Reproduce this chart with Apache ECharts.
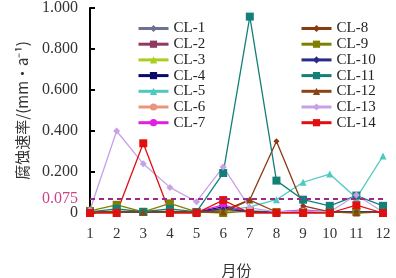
<!DOCTYPE html>
<html>
<head>
<meta charset="utf-8">
<script src="https://cdn.jsdelivr.net/npm/echarts@6/dist/echarts.min.js"></script>
<style>
  html, body { margin: 0; padding: 0; background: #fff; }
  #chart { width: 396px; height: 278px; }
</style>
</head>
<body>
<div id="chart"></div>
<script>
// month categories and the limit line value
const months = ['1', '2', '3', '4', '5', '6', '7', '8', '9', '10', '11', '12'];
const limitValue = 0.075;
const limitLabel = '0.075';

// corrosion rate per month, mm/a
const cl1  = [0.005, 0.005, 0.005, 0.005, 0.005, 0.02, 0.005, 0.005, 0.005, 0.005, 0.005, 0.005];
const cl2  = [0.005, 0.005, 0.005, 0.005, 0.005, 0.015, 0.005, 0.005, 0.005, 0.005, 0.005, 0.005];
const cl3  = [0.005, 0.01, 0.005, 0.01, 0.005, 0.01, 0.005, 0.005, 0.005, 0.005, 0.005, 0.005];
const cl4  = [0.005, 0.005, 0.005, 0.005, 0.005, 0.03, 0.005, 0.005, 0.005, 0.005, 0.005, 0.005];
const cl5  = [0.005, 0.005, 0.005, 0.005, 0.005, 0.01, 0.03, 0.065, 0.15, 0.19, 0.073, 0.278];
const cl6  = [0.005, 0.005, 0.005, 0.005, 0.005, 0.01, 0.005, 0.005, 0.01, 0.005, 0.005, 0.005];
const cl7  = [0.005, 0.005, 0.005, 0.005, 0.005, 0.04, 0.005, 0.005, 0.015, 0.005, 0.005, 0.005];
const cl8  = [0.005, 0.005, 0.005, 0.005, 0.005, 0.01, 0.065, 0.35, 0.035, 0.005, 0.005, 0.005];
const cl9  = [0.01, 0.04, 0.005, 0.047, 0.005, 0.0, 0.01, 0.005, 0.005, 0.005, 0.005, 0.005];
const cl10 = [0.005, 0.005, 0.005, 0.005, 0.005, 0.02, 0.005, 0.005, 0.005, 0.005, 0.005, 0.005];
const cl11 = [0.005, 0.02, 0.006, 0.02, 0.005, 0.195, 0.958, 0.158, 0.065, 0.035, 0.085, 0.035];
const cl12 = [0.005, 0.005, 0.005, 0.005, 0.005, 0.005, 0.063, 0.005, 0.005, 0.005, 0.0, 0.005];
const cl13 = [0.015, 0.40, 0.24, 0.125, 0.055, 0.225, 0.025, 0.005, 0.01, 0.005, 0.088, 0.005];
const cl14 = [0.0, 0.0, 0.34, 0.0, 0.0, 0.063, 0.0, 0.0, 0.0, 0.0, 0.038, 0.0];

const seriesNames = ['CL-1', 'CL-2', 'CL-3', 'CL-4', 'CL-5', 'CL-6', 'CL-7',
                     'CL-8', 'CL-9', 'CL-10', 'CL-11', 'CL-12', 'CL-13', 'CL-14'];
const seriesData = [cl1, cl2, cl3, cl4, cl5, cl6, cl7, cl8, cl9, cl10, cl11, cl12, cl13, cl14];
const colors = ['#6E7196', '#8E3A62', '#A8CF1E', '#0A0A6A', '#4EC9C0', '#E8967A', '#E020E0',
                '#8B3A10', '#808000', '#2A2A8A', '#138078', '#8B4513', '#C8A0E8', '#E01010'];
const symbols = ['diamond', 'rect', 'triangle', 'rect', 'triangle', 'circle', 'circle',
                 'diamond', 'rect', 'diamond', 'rect', 'triangle', 'diamond', 'rect'];
const symbolSizes = [5, 7, 7, 7, 7, 7, 7, 6, 8, 5, 8, 7, 7, 8];

const serif = '"Liberation Serif", "DejaVu Serif", serif';
const cjk = '"Noto Sans CJK SC", sans-serif';

const chart = echarts.init(document.getElementById('chart'));

const series = seriesNames.map((name, i) => {
  const s = {
    name: name,
    type: 'line',
    data: seriesData[i],
    symbol: symbols[i],
    symbolSize: symbolSizes[i],
    color: colors[i],
    lineStyle: { width: 1.3 },
    clip: false,
    animation: false
  };
  if (name === 'CL-14') {
    // dashed limit line, its value shown left of the y axis
    s.markLine = {
      silent: true,
      symbol: 'none',
      label: {
        show: true,
        position: 'start',
        distance: 12,
        formatter: limitLabel,
        fontFamily: serif,
        fontSize: 16,
        color: '#D0408C'
      },
      lineStyle: { color: '#A0288C', type: [5, 4], width: 2 },
      data: [{ yAxis: limitValue }]
    };
  }
  return s;
});

const legendBase = {
  orient: 'vertical',
  itemWidth: 30,
  itemHeight: 9,
  itemGap: 0.7,
  lineStyle: { width: 3 },
  textStyle: { fontFamily: serif, fontSize: 15, lineHeight: 15, color: '#222' }
};

const option = {
  backgroundColor: '#fff',
  animation: false,
  grid: { left: 90, right: 13, top: 8, bottom: 65, outerBoundsMode: 'none', containLabel: false },
  legend: [
    Object.assign({}, legendBase, { left: 132, top: 16, data: seriesNames.slice(0, 7) }),
    Object.assign({}, legendBase, { left: 295, top: 16, data: seriesNames.slice(7) })
  ],
  xAxis: {
    type: 'category',
    data: months,
    boundaryGap: false,
    axisLine: { show: false },
    axisTick: { show: false },
    axisLabel: { fontFamily: serif, fontSize: 15, color: '#333', margin: 14 },
    name: '月份',
    nameLocation: 'middle',
    nameGap: 50,
    nameTextStyle: { fontFamily: cjk, fontSize: 15, color: '#333' }
  },
  yAxis: {
    type: 'value',
    min: 0,
    max: 1,
    interval: 0.2,
    splitLine: { show: false },
    axisLine: { show: true, lineStyle: { color: '#000', width: 2 } },
    axisTick: { show: true, inside: true, length: 5, lineStyle: { color: '#000', width: 2 } },
    axisLabel: {
      showMinLabel: true,
      margin: 12,
      fontFamily: serif,
      fontSize: 16,
      color: '#333',
      formatter: function (v) {
        return v === 0 ? '0' : v.toFixed(3);
      }
    },
    name: '腐蚀速率/(mm·a⁻¹)',
    nameLocation: 'middle',
    nameGap: 60,
    nameTextStyle: { fontFamily: cjk, fontSize: 15, color: '#333' }
  },
  series: series
};

chart.setOption(option);
</script>
</body>
</html>
